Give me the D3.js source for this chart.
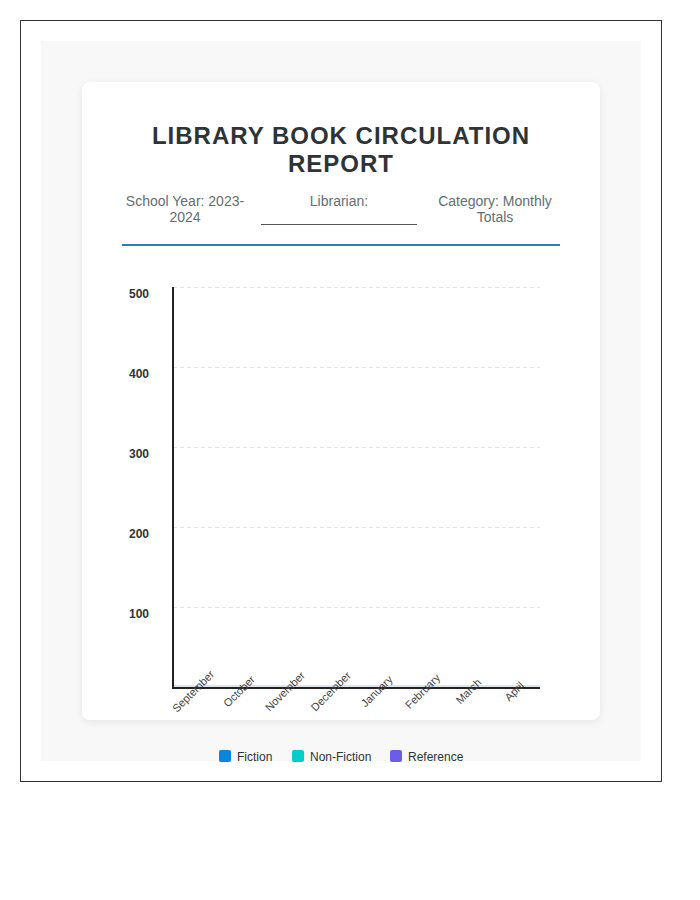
<!DOCTYPE html>
<html lang="en">
<meta charset="utf-8">
<head>
    <title>Library Book Circulation Report</title>
    <script src="https://d3js.org/d3.v7.min.js"></script>
    <style type="text/css">
        body {
            margin: 0;
            font-family: "Liberation Sans", Arial, sans-serif;
            background: #fff;
        }
        #frame {
            position: absolute;
            left: 20px;
            top: 20px;
            width: 600px;
            height: 720px;
            padding: 20px;
            border: 1px solid #333;
        }
        #sheet {
            width: 600px;
            height: 720px;
            background: #f8f8f8;
            position: relative;
        }
        #card {
            position: absolute;
            left: 41px;
            top: 41px;
            width: 518px;
            height: 638px;
            background: #fff;
            border-radius: 8px;
            box-shadow: 0 2px 8px rgba(0, 0, 0, 0.08);
        }
        h1 {
            position: absolute;
            left: 40px;
            width: 438px;
            top: 40px;
            margin: 0;
            text-align: center;
            font-size: 24px;
            line-height: 28px;
            letter-spacing: 1px;
            color: #2d3436;
        }
        .info {
            position: absolute;
            top: 111px;
            text-align: center;
            font-size: 14px;
            line-height: 16px;
            color: #636e72;
        }
        .blank {
            border-bottom: 1px solid #555;
            height: 31px;
        }
        #rule {
            position: absolute;
            left: 40px;
            top: 162px;
            width: 438px;
            height: 2px;
            background: #2980b9;
        }
        #chart {
            position: absolute;
            left: 0;
            top: 0;
        }
    </style>
</head>
<body>
    <div id="frame">
        <div id="sheet">
            <div id="card">
                <h1>LIBRARY BOOK CIRCULATION REPORT</h1>
                <div class="info" style="left:33px; width:140px;">School Year: 2023-2024</div>
                <div class="info" style="left:179px; width:156px;"><div class="blank">Librarian:</div></div>
                <div class="info" style="left:343px; width:140px;">Category: Monthly Totals</div>
                <div id="rule"></div>
            </div>
        </div>
    </div>
    <svg id="chart" width="700" height="900"></svg>

<script>
// months shown on the x axis
var months = ["September", "October", "November", "December", "January", "February", "March", "April"];
// bars are all at the baseline in the picture
var fiction = [0, 0, 0, 0, 0, 0, 0, 0];
var nonFiction = [0, 0, 0, 0, 0, 0, 0, 0];
var reference = [0, 0, 0, 0, 0, 0, 0, 0];
var yTicks = [100, 200, 300, 400, 500];

var seriesNames = ["Fiction", "Non-Fiction", "Reference"];
var seriesColors = ["#0984e3", "#00cec9", "#6c5ce7"];
var seriesValues = [fiction, nonFiction, reference];

var svg = d3.select("#chart");

var plotLeft = 173, plotRight = 540, plotTop = 287, plotBottom = 687;

var xScale = d3.scaleBand()
    .domain(months)
    .range([plotLeft, plotRight])
    .paddingInner(0.2)
    .paddingOuter(0.1);

var xSub = d3.scaleBand()
    .domain(seriesNames)
    .range([0, xScale.bandwidth()])
    .padding(0.05);

var yScale = d3.scaleLinear()
    .domain([0, 500])
    .range([plotBottom, plotTop]);

// grid lines
svg.selectAll("line.grid")
    .data(yTicks)
    .enter()
    .append("line")
    .attr("class", "grid")
    .attr("x1", plotLeft)
    .attr("x2", plotRight)
    .attr("y1", function(d) { return yScale(d) + 0.5; })
    .attr("y2", function(d) { return yScale(d) + 0.5; })
    .attr("stroke", "#e3e3e3")
    .attr("stroke-dasharray", "4,3");

// baseline
svg.append("line")
    .attr("x1", plotLeft)
    .attr("x2", plotRight)
    .attr("y1", yScale(0) - 1)
    .attr("y2", yScale(0) - 1)
    .attr("stroke", "#dde4ea")
    .attr("stroke-width", 2);

// bars
var rows = [];
months.forEach(function(m, i) {
    seriesNames.forEach(function(s, j) {
        rows.push({month: m, series: s, value: seriesValues[j][i], color: seriesColors[j]});
    });
});

svg.selectAll("rect.bar")
    .data(rows)
    .enter()
    .append("rect")
    .attr("class", "bar")
    .attr("x", function(d) { return xScale(d.month) + xSub(d.series); })
    .attr("y", function(d) { return yScale(d.value); })
    .attr("width", xSub.bandwidth())
    .attr("height", function(d) { return yScale(0) - yScale(d.value); })
    .attr("fill", function(d) { return d.color; });

// y labels
svg.selectAll("text.ylab")
    .data(yTicks)
    .enter()
    .append("text")
    .attr("class", "ylab")
    .attr("x", 149)
    .attr("y", function(d) { return yScale(d) + 11; })
    .attr("text-anchor", "end")
    .attr("font-size", 12)
    .attr("font-weight", "bold")
    .attr("fill", "#2d3436")
    .text(function(d) { return d; });

// axes lines
svg.append("line")
    .attr("x1", plotLeft)
    .attr("x2", plotLeft)
    .attr("y1", plotTop)
    .attr("y2", plotBottom + 2)
    .attr("stroke", "#222")
    .attr("stroke-width", 2);

svg.append("line")
    .attr("x1", plotLeft)
    .attr("x2", plotRight)
    .attr("y1", plotBottom + 1)
    .attr("y2", plotBottom + 1)
    .attr("stroke", "#222")
    .attr("stroke-width", 2);

// month labels
svg.selectAll("text.xlab")
    .data(months)
    .enter()
    .append("text")
    .attr("class", "xlab")
    .attr("transform", function(d) {
        var cx = xScale(d) + xScale.bandwidth() / 2;
        return "translate(" + cx + ",694) rotate(-45)";
    })
    .attr("text-anchor", "middle")
    .attr("font-size", 11)
    .attr("fill", "#444")
    .text(function(d) { return d; });

// legend
var legendX = [219, 292, 390];
var legend = svg.selectAll("g.legend")
    .data(seriesNames)
    .enter()
    .append("g")
    .attr("class", "legend")
    .attr("transform", function(d, i) { return "translate(" + legendX[i] + ",750)"; });

legend.append("rect")
    .attr("width", 12)
    .attr("height", 12)
    .attr("rx", 2)
    .attr("fill", function(d, i) { return seriesColors[i]; });

legend.append("text")
    .attr("x", 18)
    .attr("y", 10.5)
    .attr("font-size", 12)
    .attr("fill", "#2d3436")
    .text(function(d) { return d; });
</script>
</body>
</html>
